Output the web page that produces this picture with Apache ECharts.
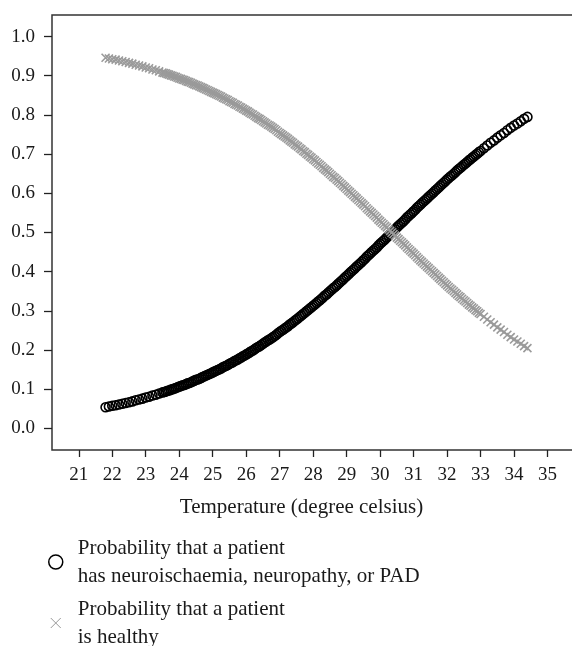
<!DOCTYPE html>
<html><head><meta charset="utf-8">
<script src="https://cdn.jsdelivr.net/npm/echarts@6/dist/echarts.min.js"></script>
<style>html,body{margin:0;padding:0;background:#fff}#c{width:572px;height:646px}</style>
</head><body><div id="c"></div>
<script>
const temperature = [21.8,21.9,22.0,22.1,22.2,22.3,22.4,22.5,22.6,22.7,22.8,22.9,23.0,23.1,23.2,23.3,23.4,23.5,23.6,23.7,23.8,23.9,24.0,24.1,24.2,24.3,24.4,24.5,24.6,24.7,24.8,24.9,25.0,25.1,25.2,25.3,25.4,25.5,25.6,25.7,25.8,25.9,26.0,26.1,26.2,26.3,26.4,26.5,26.6,26.7,26.8,26.9,27.0,27.1,27.2,27.3,27.4,27.5,27.6,27.7,27.8,27.9,28.0,28.1,28.2,28.3,28.4,28.5,28.6,28.7,28.8,28.9,29.0,29.1,29.2,29.3,29.4,29.5,29.6,29.7,29.8,29.9,30.0,30.1,30.2,30.3,30.4,30.5,30.6,30.7,30.8,30.9,31.0,31.1,31.2,31.3,31.4,31.5,31.6,31.7,31.8,31.9,32.0,32.1,32.2,32.3,32.4,32.5,32.6,32.7,32.8,32.9,33.0,33.1,33.2,33.3,33.4,33.5,33.6,33.7,33.8,33.9,34.0,34.1,34.2,34.3,34.4];
const probDisease = [0.054,0.056,0.058,0.059,0.061,0.063,0.065,0.067,0.069,0.072,0.074,0.076,0.079,0.081,0.084,0.086,0.089,0.092,0.094,0.097,0.100,0.103,0.107,0.110,0.113,0.116,0.120,0.124,0.127,0.131,0.135,0.139,0.143,0.147,0.151,0.156,0.160,0.165,0.169,0.174,0.179,0.184,0.189,0.194,0.199,0.205,0.210,0.216,0.222,0.227,0.233,0.239,0.246,0.252,0.258,0.265,0.271,0.278,0.285,0.292,0.299,0.306,0.313,0.320,0.327,0.335,0.342,0.350,0.358,0.365,0.373,0.381,0.389,0.397,0.405,0.413,0.421,0.429,0.438,0.446,0.454,0.462,0.471,0.479,0.487,0.496,0.504,0.513,0.521,0.529,0.538,0.546,0.554,0.563,0.571,0.579,0.587,0.595,0.603,0.611,0.619,0.627,0.635,0.643,0.650,0.658,0.665,0.673,0.680,0.687,0.694,0.701,0.708,0.715,0.722,0.729,0.735,0.742,0.748,0.754,0.761,0.767,0.773,0.778,0.784,0.790,0.795];
const probHealthy = [0.946,0.944,0.942,0.941,0.939,0.937,0.935,0.933,0.931,0.928,0.926,0.924,0.921,0.919,0.916,0.914,0.911,0.908,0.906,0.903,0.900,0.897,0.893,0.890,0.887,0.884,0.880,0.876,0.873,0.869,0.865,0.861,0.857,0.853,0.849,0.844,0.840,0.835,0.831,0.826,0.821,0.816,0.811,0.806,0.801,0.795,0.790,0.784,0.778,0.773,0.767,0.761,0.754,0.748,0.742,0.735,0.729,0.722,0.715,0.708,0.701,0.694,0.687,0.680,0.673,0.665,0.658,0.650,0.642,0.635,0.627,0.619,0.611,0.603,0.595,0.587,0.579,0.571,0.562,0.554,0.546,0.538,0.529,0.521,0.513,0.504,0.496,0.487,0.479,0.471,0.462,0.454,0.446,0.437,0.429,0.421,0.413,0.405,0.397,0.389,0.381,0.373,0.365,0.357,0.350,0.342,0.335,0.327,0.320,0.313,0.306,0.299,0.292,0.285,0.278,0.271,0.265,0.258,0.252,0.246,0.239,0.233,0.227,0.222,0.216,0.210,0.205];
// additional, denser observations in the middle of the range
const temperatureB = [23.55,23.65,23.75,23.85,23.95,24.05,24.15,24.25,24.35,24.45,24.55,24.65,24.75,24.85,24.95,25.05,25.15,25.25,25.35,25.45,25.55,25.65,25.75,25.85,25.95,26.05,26.15,26.25,26.35,26.45,26.55,26.65,26.75,26.85,26.95,27.05,27.15,27.25,27.35,27.45,27.55,27.65,27.75,27.85,27.95,28.05,28.15,28.25,28.35,28.45,28.55,28.65,28.75,28.85,28.95,29.05,29.15,29.25,29.35,29.45,29.55,29.65,29.75,29.85,29.95,30.05,30.15,30.25,30.35,30.45,30.55,30.65,30.75,30.85,30.95,31.05,31.15,31.25,31.35,31.45,31.55,31.65,31.75,31.85,31.95,32.05,32.15,32.25,32.35,32.45,32.55,32.65,32.75,32.85,32.95];
const probDiseaseB = [0.093,0.096,0.099,0.102,0.105,0.108,0.111,0.115,0.118,0.122,0.125,0.129,0.133,0.137,0.141,0.145,0.149,0.153,0.158,0.162,0.167,0.172,0.176,0.181,0.186,0.191,0.197,0.202,0.208,0.213,0.219,0.225,0.230,0.236,0.243,0.249,0.255,0.261,0.268,0.275,0.281,0.288,0.295,0.302,0.309,0.316,0.324,0.331,0.339,0.346,0.354,0.361,0.369,0.377,0.385,0.393,0.401,0.409,0.417,0.425,0.433,0.442,0.450,0.458,0.467,0.475,0.483,0.492,0.500,0.508,0.517,0.525,0.533,0.542,0.550,0.558,0.567,0.575,0.583,0.591,0.599,0.607,0.615,0.623,0.631,0.639,0.646,0.654,0.662,0.669,0.676,0.684,0.691,0.698,0.705];
const probHealthyB = [0.907,0.904,0.901,0.898,0.895,0.892,0.889,0.885,0.882,0.878,0.875,0.871,0.867,0.863,0.859,0.855,0.851,0.847,0.842,0.838,0.833,0.828,0.824,0.819,0.814,0.809,0.803,0.798,0.792,0.787,0.781,0.775,0.770,0.764,0.757,0.751,0.745,0.739,0.732,0.725,0.719,0.712,0.705,0.698,0.691,0.684,0.676,0.669,0.661,0.654,0.646,0.639,0.631,0.623,0.615,0.607,0.599,0.591,0.583,0.575,0.567,0.558,0.550,0.542,0.533,0.525,0.517,0.508,0.500,0.492,0.483,0.475,0.467,0.458,0.450,0.442,0.433,0.425,0.417,0.409,0.401,0.393,0.385,0.377,0.369,0.361,0.354,0.346,0.338,0.331,0.324,0.316,0.309,0.302,0.295];
const xTicks = [21,22,23,24,25,26,27,28,29,30,31,32,33,34,35];
const yTicks = [0,0.1,0.2,0.3,0.4,0.5,0.6,0.7,0.8,0.9,1.0];
const nameDisease = 'Probability that a patient\nhas neuroischaemia, neuropathy, or PAD';
const nameHealthy = 'Probability that a patient\nis healthy';
const xTitle = 'Temperature (degree celsius)';

const FONT = 'Liberation Serif';
const chart = echarts.init(document.getElementById('c'), null, {renderer:'canvas'});
const crossPath = 'path://M0,0L10,10M10,0L0,10';
const crossIcon = 'path://M-2,-2M12,12M0,0L10,10M10,0L0,10';
const pairs = (xs, ys) => xs.map((t, i) => [t, ys[i]]);
chart.setOption({
  animation: false,
  backgroundColor: '#fff',
  textStyle: {fontFamily: FONT},
  grid: {left: 52, top: 15, width: 529, height: 435, outerBoundsMode: 'none', containLabel: false,
    show: true, borderColor: '#333', borderWidth: 1.5, backgroundColor: 'transparent'},
  xAxis: {
    type: 'value', min: 20.2, max: 36.0,
    axisLine: {show: false, onZero: false},
    splitLine: {show: false},
    axisTick: {show: true, customValues: xTicks, length: 7, inside: false, lineStyle: {color: '#222', width: 1.3}},
    axisLabel: {customValues: xTicks, margin: 16, fontSize: 19, color: '#1a1a1a', fontFamily: FONT},
    name: xTitle, nameLocation: 'middle', nameGap: 47,
    nameTextStyle: {fontSize: 21, color: '#1a1a1a', fontFamily: FONT, padding: [0, 30, 0, 0]}
  },
  yAxis: {
    type: 'value', min: -0.055, max: 1.055,
    axisLine: {show: false, onZero: false},
    splitLine: {show: false},
    axisTick: {show: true, customValues: yTicks, length: 8, inside: false, lineStyle: {color: '#222', width: 1.3}},
    axisLabel: {customValues: yTicks, margin: 17, fontSize: 19, color: '#1a1a1a', fontFamily: FONT,
      formatter: v => v.toFixed(1)}
  },
  legend: {
    orient: 'vertical', left: 48, top: 534, height: 200, padding: 0, itemGap: 5,
    itemWidth: 14, itemHeight: 14,
    textStyle: {fontSize: 21, color: '#1a1a1a', fontFamily: FONT, lineHeight: 28, padding: [0, 0, 0, 10]},
    data: [
      {name: nameDisease, icon: 'circle', itemStyle: {color: 'rgba(0,0,0,0)', borderColor: '#000', borderWidth: 1.5}},
      {name: nameHealthy, icon: crossIcon, itemStyle: {color: 'rgba(0,0,0,0)', borderColor: '#999', borderWidth: 1}}
    ]
  },
  series: [
    {
      name: nameDisease, type: 'scatter', symbol: 'circle', symbolSize: 9,
      itemStyle: {color: 'rgba(0,0,0,0)', borderColor: '#000', borderWidth: 1.6, opacity: 1},
      data: pairs(temperature, probDisease).concat(pairs(temperatureB, probDiseaseB))
    },
    {
      name: nameHealthy, type: 'scatter', symbol: crossPath, symbolSize: 8,
      itemStyle: {color: 'rgba(0,0,0,0)', borderColor: '#9a9a9a', borderWidth: 1.6, opacity: 1},
      data: pairs(temperature, probHealthy).concat(pairs(temperatureB, probHealthyB))
    }
  ]
});
</script></body></html>
